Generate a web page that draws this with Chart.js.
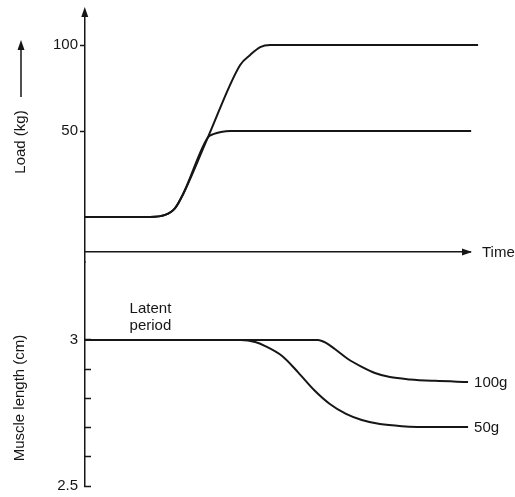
<!DOCTYPE html>
<html>
<head>
<meta charset="utf-8">
<script src="https://cdn.jsdelivr.net/npm/chart.js@4/dist/chart.umd.min.js"></script>
<style>
  body { margin: 0; background: #fff; }
  canvas { display: block; }
</style>
</head>
<body>
<canvas id="twitch" width="515" height="497"></canvas>
<script>
// load curves (top panel), time in arbitrary units
const timeLoad100 = [0, 16.9, 20.8, 23.4, 25.5, 31.9, 40.3, 42.9, 45.5, 48.1, 102.1];
const load100 = [0, 0, 1.2, 5.2, 13.4, 46.2, 88.4, 94.2, 98.8, 100, 100];
const timeLoad50 = [0, 16.9, 20.8, 23.4, 25.5, 31.9, 33.5, 35.3, 37.7, 100.3];
const load50 = [0, 0, 1.2, 5.2, 13.4, 46.2, 48.3, 49.4, 50, 50];

// muscle length curves (bottom panel)
const timeLen100 = [0, 60.5, 62.6, 64.9, 68.3, 71.9, 75.3, 79.2, 84.4, 90.9, 99.5];
const len100 = [3, 3, 2.990, 2.969, 2.935, 2.908, 2.887, 2.873, 2.865, 2.860, 2.856];
const timeLen50 = [0, 40.5, 44.2, 46.8, 51.2, 55.3, 59.5, 63.6, 67.8, 71.9, 76.6, 82.3, 90.9, 99.5];
const len50 = [3, 3, 2.993, 2.979, 2.945, 2.890, 2.829, 2.781, 2.747, 2.726, 2.712, 2.705, 2.702, 2.702];

const loadTicks = [50, 100];
const lengthTicks = [2.5, 2.6, 2.7, 2.8, 2.9, 3];
const lengthLabels = [2.5, 3];
const seriesNames = ['100g', '50g'];

const ink = '#161616';
const font = '"Liberation Sans", Arial, sans-serif';
const timeAxisAt = -20.35;   // load value where the time axis sits

const toPoints = (xs, ys) => xs.map((x, i) => ({x: x, y: ys[i]}));

function line(data, axis) {
    return {
        data: data,
        yAxisID: axis,
        borderColor: ink,
        borderWidth: 2,
        pointRadius: 0,
        cubicInterpolationMode: 'monotone',
        clip: false
    };
}

function arrowHead(ctx, x, y, dx, dy) {
    // tip at x,y pointing along dx,dy
    const len = 10, half = 3.5;
    ctx.beginPath();
    ctx.moveTo(x, y);
    ctx.lineTo(x - dx * len - dy * half, y - dy * len + dx * half);
    ctx.lineTo(x - dx * len + dy * half, y - dy * len - dx * half);
    ctx.closePath();
    ctx.fill();
}

// keep the axis widths fixed and stop tick labels from shrinking the plot
function fixAxis(s) {
    s.width = 85;
    s.paddingTop = 0;
    s.paddingBottom = 0;
}

const extras = {
    id: 'extras',
    afterDraw(chart) {
        const {ctx, chartArea, scales} = chart;
        const load = scales.load, len = scales.len, x = scales.x;
        ctx.save();
        ctx.fillStyle = ink;
        ctx.strokeStyle = ink;

        // arrow on the vertical axis
        arrowHead(ctx, load.right - 0.25, chartArea.top - 5, 0, -1);

        // time axis arrow and label
        const ty = load.getPixelForValue(timeAxisAt);
        arrowHead(ctx, chartArea.right + 2, ty, 1, 0);
        ctx.font = '15px ' + font;
        ctx.textBaseline = 'middle';
        ctx.textAlign = 'left';
        ctx.fillText('Time', chartArea.right + 12, ty + 1);

        // series names at the ends of the length curves
        [2, 3].forEach((di, k) => {
            const pts = chart.getDatasetMeta(di).data;
            const p = pts[pts.length - 1];
            ctx.fillText(seriesNames[k], p.x + 6, p.y + 1);
        });

        // latent period note
        const y3 = len.getPixelForValue(3);
        ctx.textAlign = 'center';
        ctx.textBaseline = 'alphabetic';
        ctx.fillText('Latent', x.getPixelForValue(17), y3 - 27);
        ctx.fillText('period', x.getPixelForValue(17), y3 - 10);

        // axis titles
        ctx.textBaseline = 'middle';
        ctx.save();
        ctx.translate(21, 142);
        ctx.rotate(-Math.PI / 2);
        ctx.fillText('Load (kg)', 0, 0);
        ctx.restore();
        ctx.lineWidth = 1.5;
        ctx.beginPath();
        ctx.moveTo(21, 97);
        ctx.lineTo(21, 46);
        ctx.stroke();
        arrowHead(ctx, 21, 40, 0, -1);

        ctx.save();
        ctx.translate(20, 398);
        ctx.rotate(-Math.PI / 2);
        ctx.fillText('Muscle length (cm)', 0, 0);
        ctx.restore();

        ctx.restore();
    }
};

new Chart(document.getElementById('twitch'), {
    type: 'line',
    data: {
        datasets: [
            line(toPoints(timeLoad100, load100), 'load'),
            line(toPoints(timeLoad50, load50), 'load'),
            line(toPoints(timeLen100, len100), 'len'),
            line(toPoints(timeLen50, len50), 'len')
        ]
    },
    options: {
        responsive: false,
        animation: false,
        layout: { padding: { top: 12, right: 45, bottom: 11, left: 0 } },
        plugins: { legend: { display: false }, tooltip: { enabled: false } },
        scales: {
            x: {
                type: 'linear',
                min: 0,
                max: 100,
                position: { load: timeAxisAt },
                grid: { drawOnChartArea: false, drawTicks: false },
                ticks: { display: false },
                border: { color: ink, width: 1.5 }
            },
            load: {
                type: 'linear',
                position: 'left',
                stack: 'v',
                stackWeight: 250,
                weight: 1,
                min: -26.16,
                max: 119.19,
                afterBuildTicks: s => { s.ticks = loadTicks.map(v => ({value: v})); },
                afterFit: fixAxis,
                grid: { drawOnChartArea: false, tickLength: 5, tickColor: ink, tickWidth: 1.5 },
                border: { color: ink, width: 1.5 },
                ticks: { color: ink, padding: 2, font: { size: 15, family: font } }
            },
            len: {
                type: 'linear',
                position: 'left',
                stack: 'v',
                stackWeight: 224,
                weight: 0,
                min: 2.5,
                max: 3.267,
                afterBuildTicks: s => { s.ticks = lengthTicks.map(v => ({value: v})); },
                afterFit: fixAxis,
                grid: { drawOnChartArea: false, tickLength: -6, tickColor: ink, tickWidth: 1.5 },
                border: { color: ink, width: 1.5 },
                ticks: {
                    color: ink,
                    padding: 13,
                    font: { size: 15, family: font },
                    callback: v => lengthLabels.some(l => Math.abs(l - v) < 1e-6) ? String(v) : ''
                }
            }
        }
    },
    plugins: [extras]
});
</script>
</body>
</html>
